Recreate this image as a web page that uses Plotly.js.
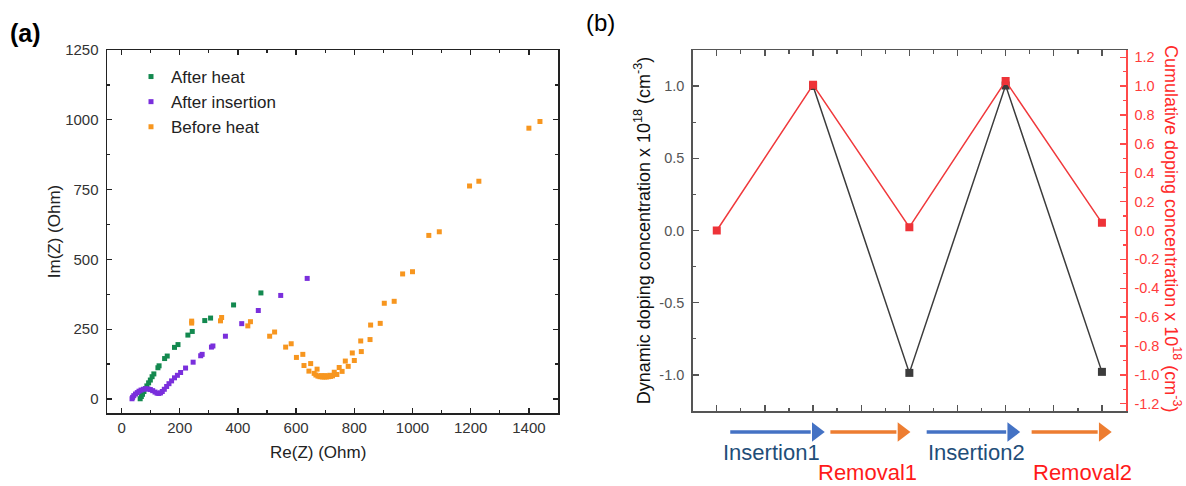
<!DOCTYPE html>
<html>
<head>
<meta charset="utf-8">
<script src="https://cdn.plot.ly/plotly-3.0.1.min.js"></script>
<style>html,body{margin:0;padding:0;background:#fff;}#chart{width:1186px;height:486px;}</style>
</head>
<body>
<div id="chart"></div>
<script>
// ---------- Panel (a): Nyquist data ----------
const afterHeatRe = [64,68,72,77,82,87,93,99,105,111,125,129,148,157,182,194,228,243,286,306,385,479];
const afterHeatIm = [1,9,17,27,37,47,58,68,80,90,112,119,145,154,185,195,229,242,281,290,337,380];

const afterInsRe = [36,38,42,48,54,60,67,75,83,91,99,107,115,122,128,134,140,147,155,163,172,182,192,203,220,246,272,277,309,314,357,413,470,547,638];
const afterInsIm = [1,6,12,18,23,28,32,35,37,36,34,30,25,21,20,22,27,35,45,55,65,76,85,95,111,132,155,160,186,190,225,270,317,371,432];

const beforeHeatRe = [241,241,340,344,434,443,509,526,564,583,601,623,627,650,644,672,662,668,675,682,690,697,704,711,718,725,740,686,700,716,731,758,748,779,769,800,793,824,822,854,856,889,903,937,966,1000,1056,1092,1196,1228,1400,1438];
const beforeHeatIm = [272,279,280,292,262,277,225,240,186,198,149,160,120,127,100,107,92,86,82,80,79,79,79,80,81,83,88,84,84,85,96,99,113,117,136,138,165,170,208,213,265,271,343,350,448,456,586,599,763,780,970,994];

const seriesNames = ['After heat','After insertion','Before heat'];

// ---------- Panel (b): doping concentration ----------
const steps = [0,1,2,3,4];
const dynamicX = [1,2,3,4];
const dynamicY = [1.0,-0.986,1.005,-0.979];
const cumulativeY = [0.0,1.009,0.023,1.035,0.053];

const leftTickVals = [-1,-0.5,0,0.5,1];
const leftTickText = ['-1.0','-0.5','0.0','0.5','1.0'];
const rightTickVals = [-1.2,-1.0,-0.8,-0.6,-0.4,-0.2,0,0.2,0.4,0.6,0.8,1.0,1.2];
const rightTickText = ['-1.2','-1.0','-0.8','-0.6','-0.4','-0.2','0.0','0.2','0.4','0.6','0.8','1.0','1.2'];

const phaseLabels = ['Insertion1','Removal1','Insertion2','Removal2'];
const phaseStart = [0.14,1.18,2.18,3.27];
const phaseEnd = [1.09,1.98,3.12,4.07];
const phaseLabelX = [0.57,1.57,2.70,3.80];

const FONT = 'Arial, "Liberation Sans", sans-serif';
const arrowColors = ['#4472c4','#ed7d31','#4472c4','#ed7d31'];
const labelColors = ['#1f4e79','#ff1a1a','#1f4e79','#ff1a1a'];

const traces = [
  {x: afterHeatRe, y: afterHeatIm, name: seriesNames[0], type:'scatter', mode:'markers',
   marker:{symbol:'square', size:5, color:'#13894f'}, xaxis:'x', yaxis:'y'},
  {x: afterInsRe, y: afterInsIm, name: seriesNames[1], type:'scatter', mode:'markers',
   marker:{symbol:'square', size:5, color:'#7a2fdc'}, xaxis:'x', yaxis:'y'},
  {x: beforeHeatRe, y: beforeHeatIm, name: seriesNames[2], type:'scatter', mode:'markers',
   marker:{symbol:'square', size:5, color:'#f7961f'}, xaxis:'x', yaxis:'y'},
  {x: dynamicX, y: dynamicY, name:'Dynamic doping', type:'scatter', mode:'lines+markers',
   line:{color:'#3c3c3c', width:1.5}, marker:{symbol:'square', size:8, color:'#3c3c3c'},
   xaxis:'x2', yaxis:'y2', showlegend:false},
  {x: steps, y: cumulativeY, name:'Cumulative doping', type:'scatter', mode:'lines+markers',
   line:{color:'#f0393c', width:1.5}, marker:{symbol:'square', size:8, color:'#ee3338'},
   xaxis:'x2', yaxis:'y3', showlegend:false}
];

// process arrows under panel (b): shaft + head, drawn as traces on a hidden helper axis pair
const pxPerStep = (1126 - 692.7) / 4.5;
const headSize = 17;
const headBack = 5.5 / pxPerStep; // from the tip back to the head's marker centre, in step units
const arrowLevel = 486 - 432;     // helper y axis counts pixels up from the bottom edge
for (let i = 0; i < phaseLabels.length; i++) {
  traces.push({x:[phaseStart[i], phaseEnd[i] - 2 * headBack], y:[arrowLevel, arrowLevel],
    type:'scatter', mode:'lines', name:phaseLabels[i], showlegend:false,
    line:{color:arrowColors[i], width:3.5}, xaxis:'x3', yaxis:'y4', hoverinfo:'skip'});
  traces.push({x:[phaseEnd[i] - headBack], y:[arrowLevel],
    type:'scatter', mode:'markers', name:phaseLabels[i] + ' head', showlegend:false,
    marker:{symbol:'triangle-right', size:headSize, color:arrowColors[i], line:{width:0}},
    xaxis:'x3', yaxis:'y4', hoverinfo:'skip', cliponaxis:false});
}

const annotations = [
  {text:'<b>(a)</b>', xref:'paper', yref:'paper', x:25/1186, y:1-33/486, xanchor:'center', yanchor:'middle',
   showarrow:false, font:{family:FONT, size:25, color:'#000'}},
  {text:'(b)', xref:'paper', yref:'paper', x:600/1186, y:1-23/486, xanchor:'center', yanchor:'middle',
   showarrow:false, font:{family:FONT, size:24, color:'#000'}},
  {text:'Re(Z) (Ohm)', xref:'paper', yref:'paper', x:318/1186, y:1-452/486, xanchor:'center', yanchor:'middle',
   showarrow:false, font:{family:FONT, size:17, color:'#222'}},
  {text:'Cumulative doping concentration x 10<sup>18</sup> (cm<sup>-3</sup>)', xref:'paper', yref:'paper',
   x:1173/1186, y:1-228/486, xanchor:'center', yanchor:'middle', textangle:90, showarrow:false,
   font:{family:FONT, size:18, color:'#ff2a2a'}}
];
for (let i = 0; i < phaseLabels.length; i++) {
  const isIns = (i % 2 === 0);
  annotations.push({text:phaseLabels[i], xref:'x2', yref:'paper', x:phaseLabelX[i],
    y: isIns ? 1-452/486 : 0, xanchor:'center', yanchor: isIns ? 'middle' : 'bottom',
    borderpad:0, showarrow:false,
    font:{family:FONT, size:22, color:labelColors[i]}});
}

const layout = {
  width:1186, height:486,
  margin:{l:0, r:0, t:0, b:0},
  paper_bgcolor:'#fff', plot_bgcolor:'rgba(0,0,0,0)',
  font:{family:FONT, color:'#333'},
  showlegend:true,
  legend:{x:131/1186, y:1-59/486, xanchor:'left', yanchor:'top', bgcolor:'rgba(0,0,0,0)',
          font:{family:FONT, size:17, color:'#222'}, tracegroupgap:0},
  xaxis:{domain:[107/1186, 558/1186], anchor:'y', range:[-50,1500], tick0:0, dtick:200,
         ticks:'inside', ticklen:5, tickwidth:1.3, tickcolor:'#222',
         minor:{dtick:100, tick0:0, ticks:'inside', ticklen:3, tickcolor:'#222', showgrid:false},
         showline:true, linecolor:'#222', linewidth:1.5, mirror:'ticks',
         showgrid:false, zeroline:false, ticklabelstandoff:0,
         tickfont:{family:FONT, size:15, color:'#333'}},
  yaxis:{domain:[73/486, 436/486], anchor:'x', range:[-50,1250], tick0:0, dtick:250,
         ticks:'inside', ticklen:5, tickwidth:1.3, tickcolor:'#222',
         minor:{dtick:125, tick0:0, ticks:'inside', ticklen:3, tickcolor:'#222', showgrid:false},
         showline:true, linecolor:'#222', linewidth:1.5, mirror:'ticks',
         showgrid:false, zeroline:false, ticklabelstandoff:4,
         tickfont:{family:FONT, size:15, color:'#333'},
         title:{text:'Im(Z) (Ohm)', font:{family:FONT, size:17, color:'#222'}, standoff:0}},
  xaxis2:{domain:[692.7/1186, 1126/1186], anchor:'y2', range:[-0.25,4.25], tick0:0, dtick:0.5,
          showticklabels:false, ticks:'inside', ticklen:6, tickwidth:1.3, tickcolor:'#555',
          minor:{dtick:0.25, tick0:0, ticks:'inside', ticklen:3.5, tickcolor:'#555', showgrid:false},
          showline:true, linecolor:'#555', linewidth:1.5, mirror:'ticks',
          showgrid:false, zeroline:false},
  yaxis2:{domain:[75/486, 436/486], anchor:'x2', range:[-1.25,1.25],
          tickmode:'array', tickvals:leftTickVals, ticktext:leftTickText,
          ticks:'inside', ticklen:6, tickwidth:1.3, tickcolor:'#555',
          minor:{tickmode:'linear', dtick:0.25, tick0:0, ticks:'inside', ticklen:3.5, tickcolor:'#555', showgrid:false},
          showline:true, linecolor:'#555', linewidth:1.5, mirror:false,
          showgrid:false, zeroline:false, ticklabelstandoff:4,
          tickfont:{family:FONT, size:14.5, color:'#555'},
          title:{text:'Dynamic doping concentration x 10<sup>18</sup> (cm<sup>-3</sup>)',
                 font:{family:FONT, size:18, color:'#111'}, standoff:4}},
  yaxis3:{overlaying:'y2', anchor:'x2', side:'right', range:[-1.25,1.25],
          tickmode:'array', tickvals:rightTickVals, ticktext:rightTickText,
          ticks:'inside', ticklen:6, tickwidth:1.3, tickcolor:'#ff4a4a',
          minor:{tickmode:'linear', dtick:0.1, tick0:0, ticks:'inside', ticklen:3.5, tickcolor:'#ff4a4a', showgrid:false},
          showline:true, linecolor:'#ff4a4a', linewidth:1.5,
          showgrid:false, zeroline:false, ticklabelstandoff:4,
          tickfont:{family:FONT, size:14.5, color:'#ff3b3b'}},
  xaxis3:{domain:[692.7/1186, 1126/1186], anchor:'y4', range:[-0.25,4.25], visible:false, fixedrange:true},
  yaxis4:{domain:[0, 75/486], anchor:'x3', range:[0,75], visible:false, fixedrange:true},
  annotations:annotations
};

Plotly.newPlot('chart', traces, layout, {displayModeBar:false, staticPlot:true});
</script>
</body>
</html>
